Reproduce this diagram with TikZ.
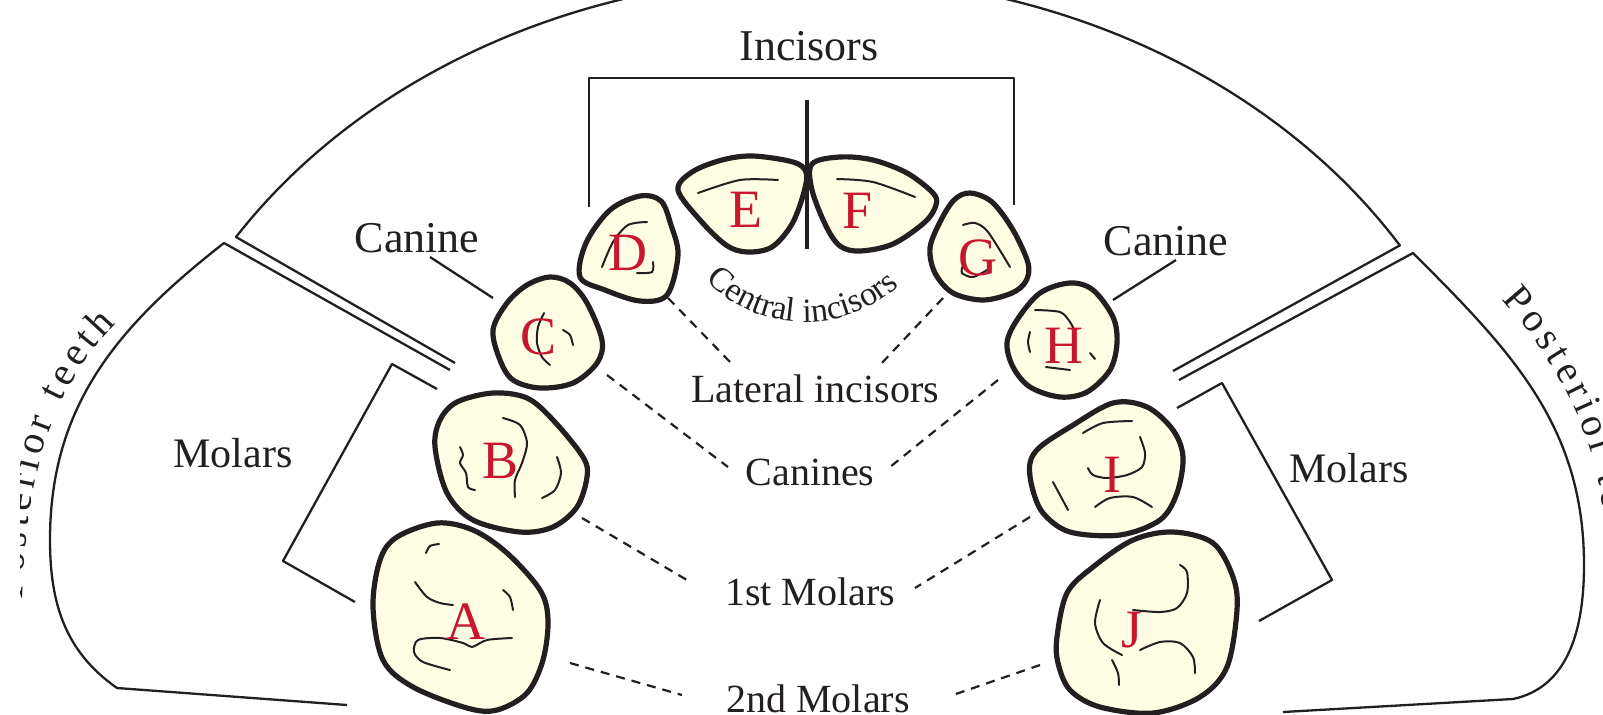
\documentclass[tikz,border=0pt]{standalone}
\usepackage{fontspec}
\setmainfont{Liberation Serif}
\usetikzlibrary{decorations.text}
\definecolor{ink}{RGB}{35,31,32}
\definecolor{toothfill}{RGB}{255,253,228}
\definecolor{toothred}{RGB}{200,22,44}
\newcommand{\lblfont}{\fontsize{20}{24}\selectfont}
\newcommand{\biglblfont}{\fontsize{22}{26}\selectfont}
\newcommand{\toothfont}{\fontsize{27}{30}\selectfont}
\newcommand{\cifont}{\fontsize{17}{20}\selectfont}

\begin{document}
\begin{tikzpicture}[x=0.5pt,y=0.5pt,
  frame/.style={draw=ink,line width=1.15pt,line join=round},
  tooth/.style={draw=ink,fill=toothfill,line width=2.6pt,line join=round},
  groove/.style={draw=ink,line width=1pt,line cap=round},
  lead/.style={draw=ink,line width=1.1pt,dash pattern=on 4.5pt off 3.5pt},
  lbl/.style={font=\lblfont,text=ink,inner sep=0pt,anchor=base},
  toothlbl/.style={font=\toothfont,text=toothred,inner sep=0pt},
  spaced/.style={font=\lblfont,decoration={text effects along path,text={Posterior teeth},text align=#1,
    text effects/.cd,text along path,characters={text=ink,font=\lblfont},character widths={inner xsep=1.2pt}}}]%
\useasboundingbox (0,0) rectangle (1603,-714);%
% sectors
\draw[frame] (455,-363) -- (236,-237) arc[start angle=147,end angle=32,x radius=690,y radius=572] -- (1173,-371);%
\draw[frame] (450,-370) -- (224,-243) to[out=-142,in=90] (50,-540) to[out=-90,in=145] (117,-688) -- (347,-705);%
\draw[frame] (1179,-380) -- (1413,-253) to[out=-45,in=90] (1584,-565) to[out=-90,in=12] (1513,-699) -- (1283,-712);%
\begin{scope}
\clip (20,0) rectangle (1603,-714);
\path[spaced=right,decorate] (22,-640) .. controls (22,-500) and (40,-400) .. (118,-322);%
\end{scope}
\path[spaced=left,decorate] (1500,-297.5) arc[start angle=30,end angle=-30,x radius=790,y radius=505];%
% brackets
\draw[frame] (437,-389) -- (392,-364) -- (283,-561) -- (355,-602);%
\draw[frame] (1177,-408) -- (1222,-383) -- (1332,-580) -- (1259,-621);%
\draw[frame] (589,-207) -- (589,-78) -- (1014,-78) -- (1014,-205);%
% teeth
\draw[tooth] plot[smooth cycle,tension=0.55] coordinates {(373,-607) (380,-560) (397,-537) (437,-523) (473,-530) (507,-553) (540,-590) (548,-620) (543,-660) (527,-693) (497,-710) (467,-708) (413,-687) (383,-660)};%
\draw[tooth] plot[smooth cycle,tension=0.55] coordinates {(435,-447) (440,-420) (457,-402) (493,-393) (527,-398) (553,-420) (583,-457) (587,-477) (577,-507) (553,-527) (520,-532) (473,-520) (447,-493)};%
\draw[tooth] plot[smooth cycle,tension=0.55] coordinates {(493,-330) (507,-303) (527,-285) (550,-277) (570,-283) (587,-303) (602,-340) (597,-363) (573,-383) (540,-388) (513,-380) (500,-360)};%
\draw[tooth] plot[smooth cycle,tension=0.55] coordinates {(580,-277) (586,-243) (610,-210) (640,-196) (661,-201) (671,-225) (678,-255) (667,-295) (640,-301) (605,-290)};%
\draw[tooth] plot[smooth cycle,tension=0.55] coordinates {(678,-190) (692,-172) (722,-160) (753,-156) (793,-162) (806,-172) (804,-192) (792,-224) (772,-247) (747,-252) (726,-245) (700,-220)};%
\draw[tooth] plot[smooth cycle,tension=0.55] coordinates {(812,-164) (840,-157) (873,-160) (907,-173) (933,-193) (936,-205) (925,-222) (893,-244) (860,-251) (840,-246) (826,-226) (812,-190)};%
\draw[tooth] plot[smooth cycle,tension=0.55] coordinates {(930,-248) (940,-222) (954,-200) (970,-193) (992,-202) (1013,-230) (1028,-263) (1026,-281) (1012,-293) (983,-300) (953,-293) (935,-273)};%
\draw[tooth] plot[smooth cycle,tension=0.55] coordinates {(1007,-343) (1017,-320) (1040,-293) (1070,-283) (1093,-290) (1113,-317) (1117,-343) (1110,-370) (1087,-392) (1060,-397) (1030,-387) (1013,-367)};%
\draw[tooth] plot[smooth cycle,tension=0.55] coordinates {(1030,-463) (1040,-447) (1070,-427) (1113,-403) (1147,-407) (1173,-430) (1183,-457) (1177,-493) (1160,-520) (1120,-535) (1070,-532) (1043,-513) (1032,-487)};%
\draw[tooth] plot[smooth cycle,tension=0.55] coordinates {(1057,-637) (1067,-593) (1093,-567) (1133,-540) (1173,-532) (1213,-543) (1233,-577) (1237,-610) (1227,-667) (1200,-697) (1153,-713) (1100,-707) (1070,-690) (1058,-663)};%
\draw[ink,line width=2pt] (807,-100) -- (807,-249);%
% grooves
\draw[groove] plot[smooth] coordinates {(426,-553) (430,-546) (439,-544)};%
\draw[groove] plot[smooth] coordinates {(415,-582) (427,-597) (440,-603) (453,-605)};%
\draw[groove] plot[smooth] coordinates {(503,-590) (510,-597) (513,-610)};%
\draw[groove] plot[smooth] coordinates {(512,-638) (487,-640) (472,-647) (463,-643) (440,-638) (418,-640) (414,-652) (423,-662) (450,-670)};%
\draw[groove] plot[smooth] coordinates {(460,-447) (463,-455) (460,-463) (466,-473) (468,-487) (475,-490)};%
\draw[groove] plot[smooth] coordinates {(503,-418) (520,-425) (527,-443) (522,-463) (515,-480) (515,-497)};%
\draw[groove] plot[smooth] coordinates {(557,-457) (561,-473) (555,-490) (542,-498)};%
\draw[groove] plot[smooth] coordinates {(544,-313) (538,-327) (537,-343) (542,-357) (550,-365)};%
\draw[groove] plot[smooth] coordinates {(563,-330) (570,-335) (573,-345)};%
\draw[groove] plot[smooth] coordinates {(602,-267) (613,-242) (628,-225) (647,-222)};%
\draw[groove] plot[smooth] coordinates {(653,-262) (652,-272) (637,-273)};%
\draw[groove] plot[smooth] coordinates {(698,-193) (740,-180) (778,-180)};%
\draw[groove] plot[smooth] coordinates {(837,-179) (873,-182) (915,-197)};%
\draw[groove] plot[smooth] coordinates {(963,-225) (975,-223) (988,-232) (1010,-267)};%
\draw[groove] plot[smooth] coordinates {(963,-265) (962,-273) (973,-277) (987,-270)};%
\draw[groove] plot[smooth] coordinates {(1035,-310) (1060,-312) (1070,-322) (1075,-332)};%
\draw[groove] plot[smooth] coordinates {(1030,-332) (1028,-342) (1030,-352)};%
\draw[groove] (1090,-353) -- (1095,-359);%
\draw[groove] (1046,-367) -- (1070,-370);%
\draw[groove] plot[smooth] coordinates {(1083,-433) (1103,-423) (1132,-421)};%
\draw[groove] plot[smooth] coordinates {(1140,-437) (1145,-453) (1142,-467) (1127,-475) (1107,-478) (1093,-475) (1088,-468)};%
\draw[groove] plot[smooth] coordinates {(1095,-507) (1110,-498) (1133,-497) (1152,-507)};%
\draw[groove] (1053,-482) -- (1068,-510);%
\draw[groove] plot[smooth] coordinates {(1180,-565) (1187,-572) (1187,-593) (1177,-608) (1160,-612) (1133,-610)};%
\draw[groove] plot[smooth] coordinates {(1100,-600) (1095,-623) (1103,-643) (1122,-655)};%
\draw[groove] plot[smooth] coordinates {(1140,-650) (1160,-642) (1180,-643) (1193,-657) (1195,-673)};%
\draw[groove] plot[smooth] coordinates {(1112,-660) (1118,-673) (1119,-685)};%
% tooth letters
\node[toothlbl] (tA) at (466,-622) {A};%
\node[toothlbl] (tB) at (501,-461) {B};%
\node[toothlbl] (tC) at (539,-337) {C};%
\node[toothlbl] (tD) at (628,-253) {D};%
\node[toothlbl] (tE) at (746,-210) {E};%
\node[toothlbl] (tF) at (858,-211) {F};%
\node[toothlbl] (tG) at (978,-258) {G};%
\node[toothlbl] (tH) at (1064,-346) {H};%
\node[toothlbl] (tI) at (1112,-475) {I};%
\node[toothlbl] (tJ) at (1132,-630) {J};%
% labels
\node[lbl,font=\biglblfont] (inc) at (809,-60) {Incisors};%
\node[lbl,font=\biglblfont] (canL) at (417,-252) {Canine};%
\node[lbl,font=\biglblfont] (canR) at (1166,-255) {Canine};%
\node[lbl,font=\fontsize{21}{25}\selectfont] (molL) at (233,-467) {Molars};%
\node[lbl,font=\fontsize{21}{25}\selectfont] (molR) at (1349,-482) {Molars};%
\node[lbl] (lat) at (815,-402) {Lateral incisors};%
\node[lbl] (cans) at (810,-485) {Canines};%
\node[lbl] (mol1) at (810,-605) {1st Molars};%
\node[lbl] (mol2) at (818,-712) {2nd Molars};%
\path[decorate,decoration={text along path,text align=center,text color=ink,text={|\cifont|Central incisors}}]
  (690.3,-262.3) arc[start angle=215,end angle=322,radius=140];%
% connector ends
\coordinate (canLa) at (430,-257); \coordinate (canLb) at (493,-298);%
\coordinate (canRa) at (1176,-260); \coordinate (canRb) at (1113,-300);%
\coordinate (dD) at (668,-298); \coordinate (latL) at (732,-364);%
\coordinate (dG) at (943,-298); \coordinate (latR) at (880,-365);%
\coordinate (dC) at (607,-375); \coordinate (cansL) at (728,-467);%
\coordinate (dH) at (998,-380); \coordinate (cansR) at (890,-467);%
\coordinate (dB) at (582,-518); \coordinate (molaL) at (692,-583);%
\coordinate (dI) at (1030,-517); \coordinate (molaR) at (915,-588);%
\coordinate (dA) at (570,-663); \coordinate (molbL) at (682,-695);%
\coordinate (dJ) at (1040,-665); \coordinate (molbR) at (953,-695);%
\draw[frame] (canLa) -- (canLb);%
\draw[frame] (canRa) -- (canRb);%
\draw[lead] (dD) -- (latL);%
\draw[lead] (dG) -- (latR);%
\draw[lead] (dC) -- (cansL);%
\draw[lead] (dH) -- (cansR);%
\draw[lead] (dB) -- (molaL);%
\draw[lead] (dI) -- (molaR);%
\draw[lead] (dA) -- (molbL);%
\draw[lead] (dJ) -- (molbR);%
\end{tikzpicture}
\end{document}
